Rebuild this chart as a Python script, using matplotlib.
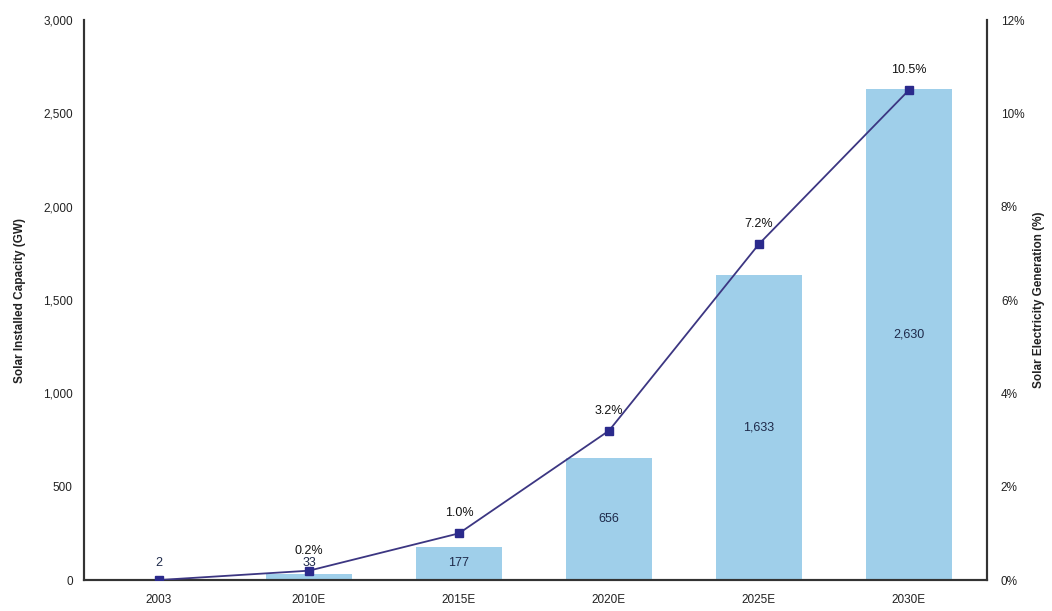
import matplotlib
matplotlib.use("Agg")
import matplotlib.pyplot as plt
from matplotlib.ticker import FuncFormatter

plt.rcParams['font.family'] = ['Liberation Sans', 'DejaVu Sans']

years = ["2003", "2010E", "2015E", "2020E", "2025E", "2030E"]
capacity_gw = [2, 33, 177, 656, 1633, 2630]
generation_pct = [0.0, 0.2, 1.0, 3.2, 7.2, 10.5]
capacity_labels = ["2", "33", "177", "656", "1,633", "2,630"]
generation_labels = ["", "0.2%", "1.0%", "3.2%", "7.2%", "10.5%"]

fig = plt.figure(figsize=(10.52, 6.11), dpi=100)
ax = fig.add_axes([0.0798, 0.0507, 0.8584, 0.9165])
x = list(range(len(years)))

bar_color = "#9fcfea"
ax.bar(x, capacity_gw, width=0.57, color=bar_color, zorder=1)
ax.set_xlim(-0.5, 5.52)
ax.set_ylim(0, 3000)
ax.set_yticks(range(0, 3001, 500))
ax.yaxis.set_major_formatter(FuncFormatter(lambda v, p: f"{int(v):,}"))
ax.set_xticks(x)
ax.set_xticklabels(years)
ax.set_ylabel("Solar Installed Capacity (GW)", fontsize=8.5, fontweight="bold", color="#222222", labelpad=12)

for xi, v, lab in zip(x, capacity_gw, capacity_labels):
    ax.text(xi, max(v / 2, 90), lab, ha="center", va="center", fontsize=9,
            color="#1e2a4a", zorder=4)

ax2 = ax.twinx()
ax2.set_ylim(0, 12)
ax2.set_yticks(range(0, 13, 2))
ax2.yaxis.set_major_formatter(FuncFormatter(lambda v, p: f"{int(v)}%"))
ax2.plot(x, generation_pct, color="#3c3682", linewidth=1.3, marker="s",
         markersize=6, markerfacecolor="#2b2a8c", markeredgecolor="#2b2a8c", zorder=3)
for xi, v, lab in zip(x, generation_pct, generation_labels):
    if lab:
        ax2.text(xi, v + 0.3, lab, ha="center", va="bottom", fontsize=9, color="#111111")
ax2.set_ylabel("Solar Electricity Generation (%)", fontsize=8.5, fontweight="bold", color="#222222", labelpad=6)

for a in (ax, ax2):
    a.spines["top"].set_visible(False)
    for s in ("left", "right", "bottom"):
        a.spines[s].set_color("#333333")
        a.spines[s].set_linewidth(1.5)
    a.tick_params(axis="both", length=0, labelsize=8.5, colors="#222222", pad=8)
ax.tick_params(axis="x", pad=10)
ax2.tick_params(axis="y", pad=10)

fig.savefig("out.png", dpi=100, facecolor="white")
